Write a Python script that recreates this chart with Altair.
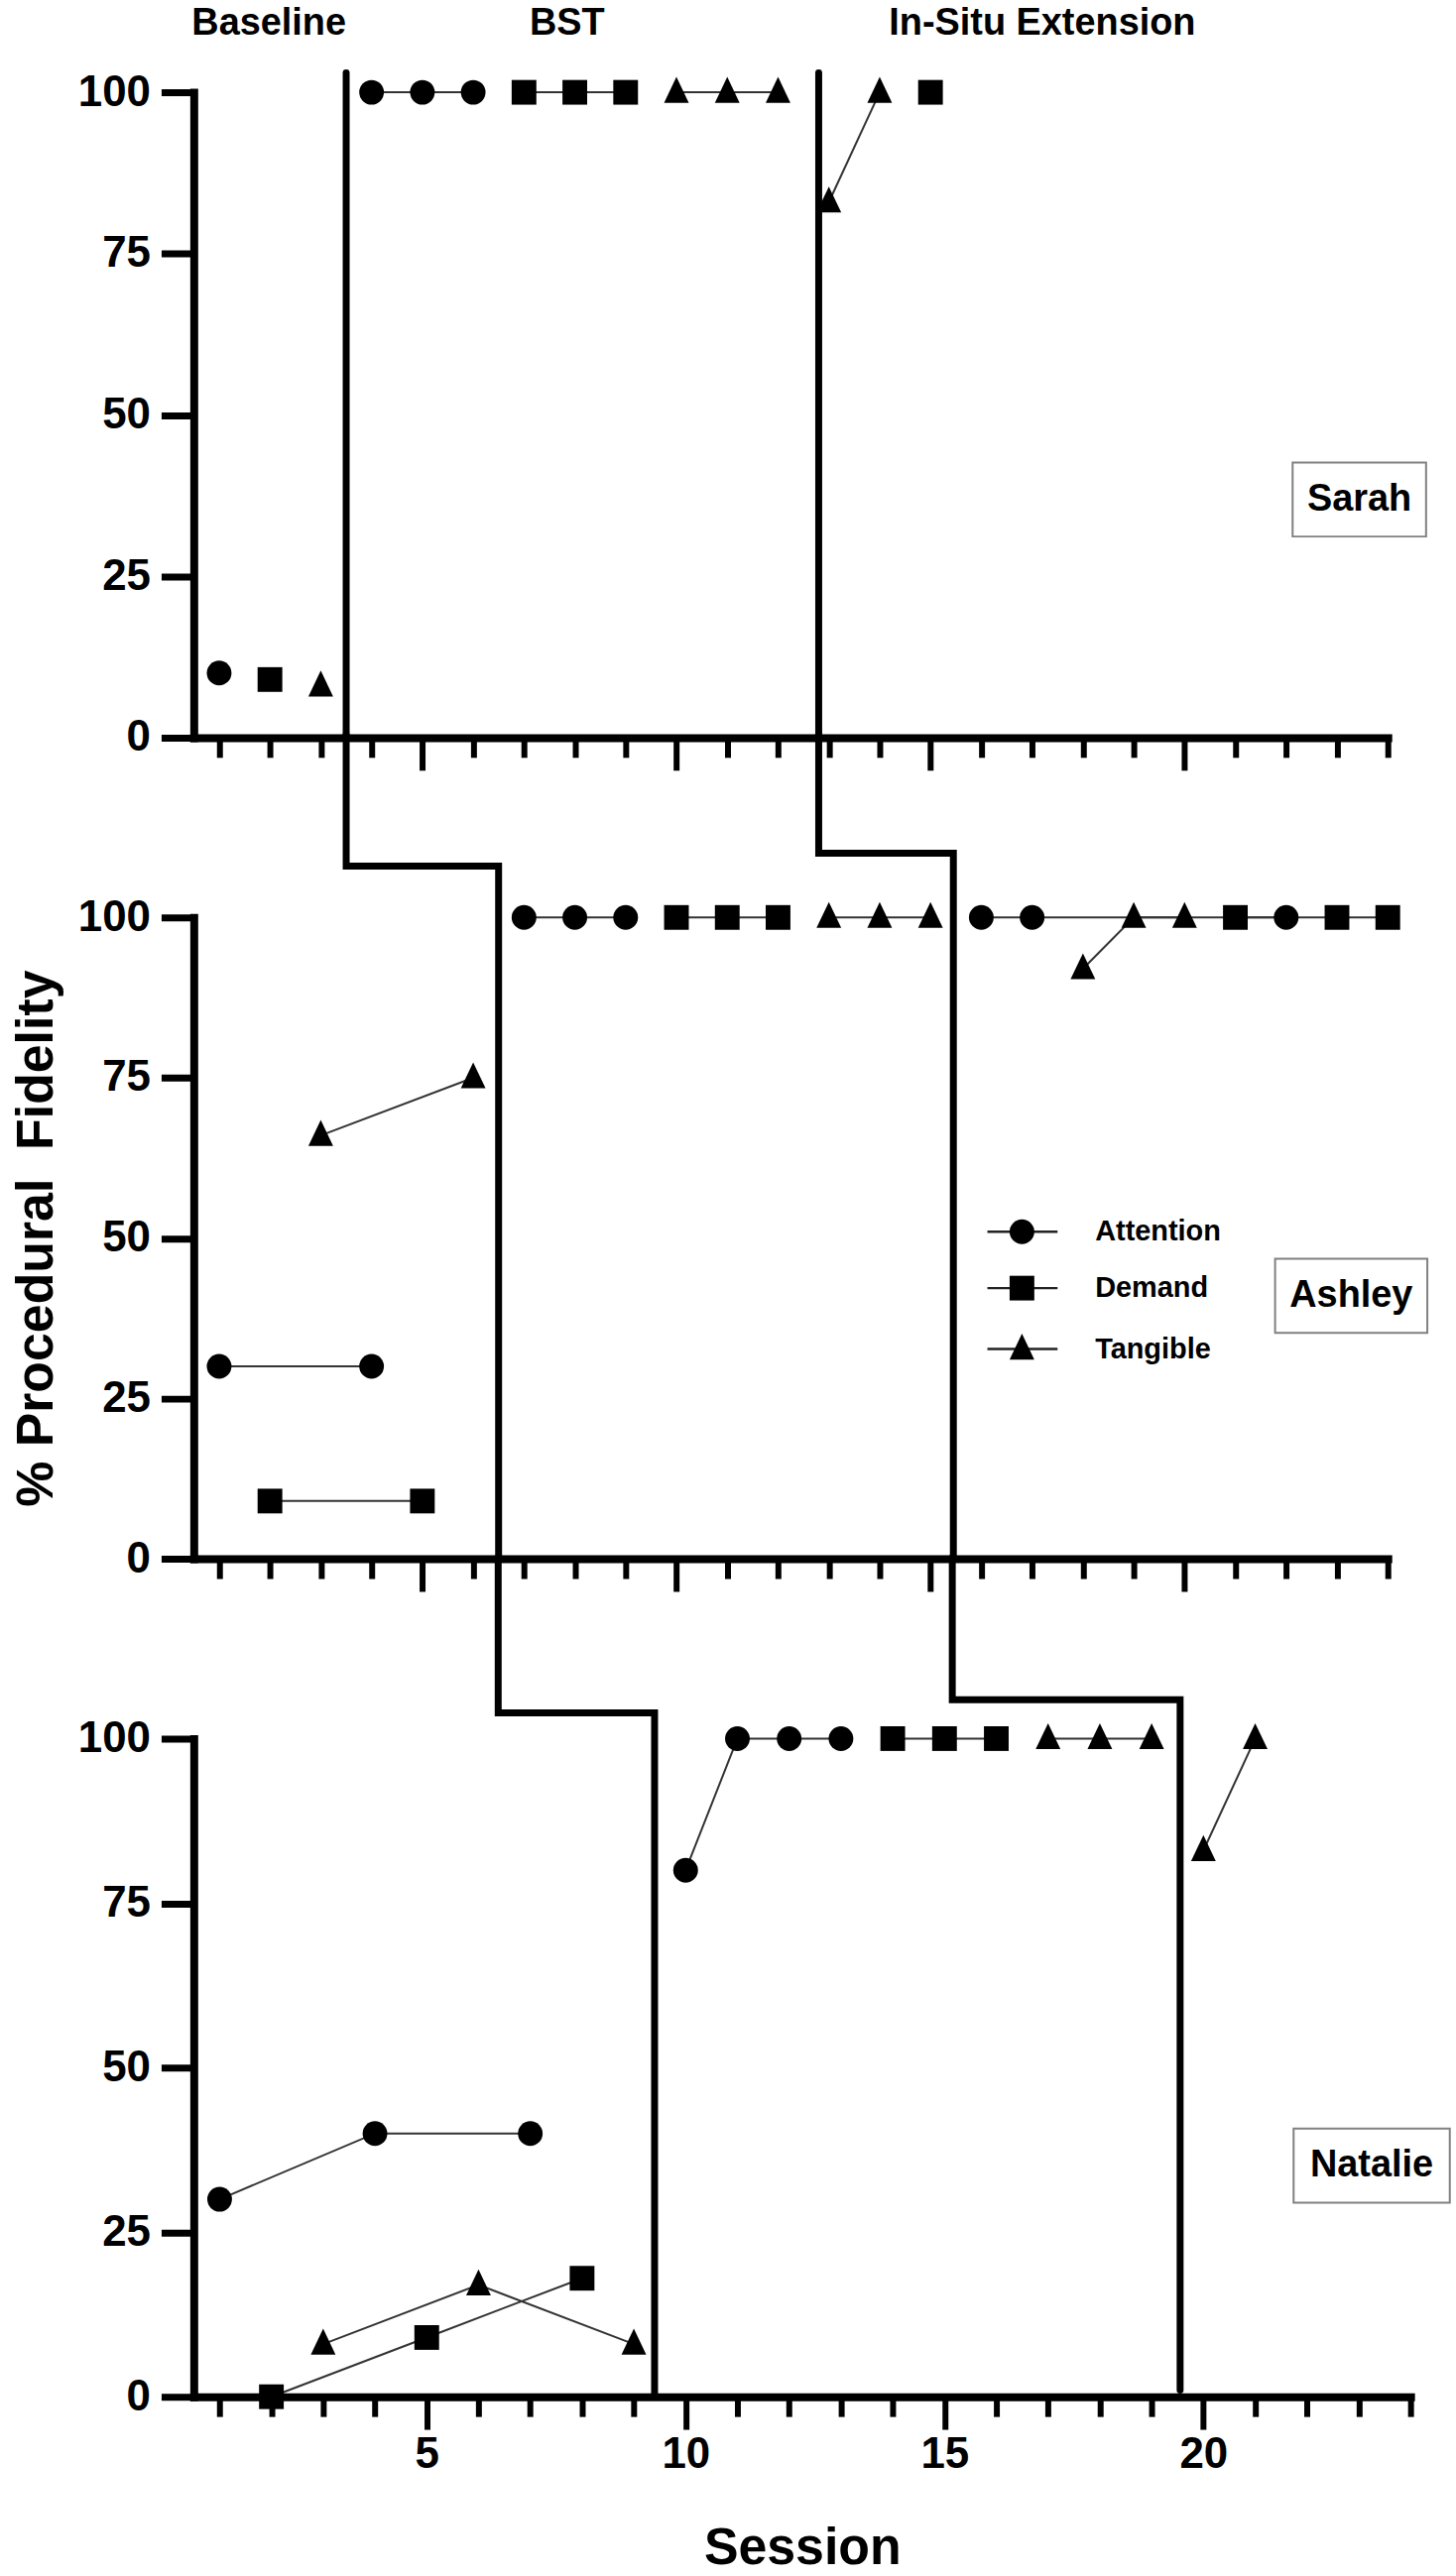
import altair as alt
import pandas as pd

FONT = "Liberation Sans"

# ---------------- data ----------------
conditions = ["Attention", "Demand", "Tangible"]
shape_range = ["circle", "square", "M0,-1.25L1,0.85L-1,0.85Z"]

# Sarah
sarah_session = [1, 2, 3, 4, 5, 6, 7, 8, 9, 10, 11, 12, 13, 14, 15]
sarah_condition = ["Attention", "Demand", "Tangible",
                   "Attention", "Attention", "Attention",
                   "Demand", "Demand", "Demand",
                   "Tangible", "Tangible", "Tangible",
                   "Tangible", "Tangible", "Demand"]
sarah_phase = ["Baseline"] * 3 + ["BST"] * 9 + ["In-Situ"] * 3
sarah_value = [10, 9, 8, 100, 100, 100, 100, 100, 100, 100, 100, 100, 83, 100, 100]

# Ashley
ashley_session = [1, 4, 2, 5, 3, 6,
                  7, 8, 9, 10, 11, 12, 13, 14, 15,
                  16, 17, 22, 18, 19, 20, 21, 23, 24]
ashley_condition = (["Attention"] * 2 + ["Demand"] * 2 + ["Tangible"] * 2 +
                    ["Attention"] * 3 + ["Demand"] * 3 + ["Tangible"] * 3 +
                    ["Attention"] * 3 + ["Tangible"] * 3 + ["Demand"] * 3)
ashley_phase = ["Baseline"] * 6 + ["BST"] * 9 + ["In-Situ"] * 9
ashley_value = [30, 30, 9, 9, 66, 75,
                100, 100, 100, 100, 100, 100, 100, 100, 100,
                100, 100, 100, 92, 100, 100, 100, 100, 100]

# Natalie
natalie_session = [1, 4, 7, 2, 5, 8, 3, 6, 9,
                   10, 11, 12, 13, 14, 15, 16, 17, 18, 19,
                   20, 21]
natalie_condition = (["Attention"] * 3 + ["Demand"] * 3 + ["Tangible"] * 3 +
                     ["Attention"] * 4 + ["Demand"] * 3 + ["Tangible"] * 3 +
                     ["Tangible"] * 2)
natalie_phase = ["Baseline"] * 9 + ["BST"] * 10 + ["In-Situ"] * 2
natalie_value = [30, 40, 40, 0, 9, 18, 8, 17, 8,
                 80, 100, 100, 100, 100, 100, 100, 100, 100, 100,
                 83, 100]

# phase-change lines (session, % in each panel's own units)
sarah_pc_line = ["A", "A", "B", "B"]
sarah_pc_session = [3.5, 3.5, 12.8, 12.8]
sarah_pc_pct = [103, 0, 103, 0]

ashley_pc_line = ["A", "A", "A", "A", "B", "B", "B", "B"]
ashley_pc_session = [3.5, 3.5, 6.5, 6.5, 12.8, 12.8, 15.45, 15.45]
ashley_pc_pct = [128.5, 108, 108, 0, 128.5, 110, 110, 0]

natalie_pc_line = ["A", "A", "A", "A", "B", "B", "B", "B"]
natalie_pc_session = [6.38, 6.38, 9.4, 9.4, 15.15, 15.15, 19.55, 19.55]
natalie_pc_pct = [127.5, 103.9, 103.9, 0, 127.5, 105.9, 105.9, 1]

# phase labels (top of first panel)
phase_labels = ["Baseline", "BST", "In-Situ Extension"]
phase_label_session = [1.98, 7.85, 17.2]
phase_label_pct = [108.9, 108.9, 108.9]

# participant name boxes
names = ["Sarah", "Ashley", "Natalie"]
name_session = [23.44, 23.28, 23.25]
name_pct = [36.9, 41.0, 35.1]
name_box_w = [135, 154, 158]

# legend (inside Ashley's panel)
legend_pct = [51, 42.2, 32.7]
legend_rule = [16.12, 17.5]
legend_symbol_session = 16.8
legend_text_session = 18.24

x_ticks = list(range(1, 25))
y_ticks = [0, 25, 50, 75, 100]


def data_frame(session, condition, phase, value):
    df = pd.DataFrame({"session": session, "condition": condition,
                       "phase": phase, "pct": value})
    df["series"] = df["phase"] + "-" + df["condition"]
    return df


def pc_frame(line, session, pct):
    return pd.DataFrame({"line": line, "session": session, "pct": pct,
                         "idx": list(range(len(line)))})


def make_panel(df, pc, width, height, idx, bottom=False, y_title=None,
               legend=False, labels=False):
    x_scale = alt.Scale(domain=[0.5, 24], nice=False, zero=False)
    y_scale = alt.Scale(domain=[0, 100], nice=False, zero=False)
    tick_size = {"condition": {"test": "datum.value % 5 === 0", "value": 33}, "value": 20}
    x_axis_kw = dict(values=x_ticks, grid=False, domainColor="black", domainWidth=8,
                     domainCap="square", tickColor="black", tickWidth=6,
                     tickSize=tick_size, labelFlush=False, labelOverlap=False)
    if bottom:
        x_axis = alt.Axis(labelExpr="datum.value % 5 === 0 ? datum.label : ''",
                          labelFont=FONT, labelFontSize=44, labelFontWeight="bold",
                          labelColor="black", labelPadding=4,
                          title="Session", titleFont=FONT, titleFontSize=52,
                          titleFontWeight="bold", titleColor="black", titlePadding=47,
                          **x_axis_kw)
    else:
        x_axis = alt.Axis(labels=False, title=None, **x_axis_kw)
    y_kw = dict(values=y_ticks, grid=False, domainColor="black", domainWidth=8,
                domainCap="square", tickColor="black", tickWidth=7, tickSize=33,
                labelFont=FONT, labelFontSize=44, labelFontWeight="bold",
                labelColor="black", labelPadding=11)
    if y_title:
        y_axis = alt.Axis(title=y_title, titleFont=FONT, titleFontSize=52,
                          titleFontWeight="bold", titleColor="black",
                          titlePadding=15, **y_kw)
    else:
        y_axis = alt.Axis(title=None, **y_kw)

    X = alt.X("session:Q", scale=x_scale, axis=x_axis)
    Y = alt.Y("pct:Q", scale=y_scale, axis=y_axis)
    shape = alt.Shape("condition:N", scale=alt.Scale(domain=conditions, range=shape_range),
                      legend=None)

    layers = []
    layers.append(alt.Chart(pc).mark_line(color="black", strokeWidth=7, strokeCap="round",
                                          strokeJoin="miter")
                  .encode(x=X, y=Y, detail="line:N", order=alt.Order("idx:Q")))
    layers.append(alt.Chart(df).mark_line(color="#333333", strokeWidth=2)
                  .encode(x=X, y=Y, detail="series:N", order=alt.Order("session:Q")))
    layers.append(alt.Chart(df).mark_point(filled=True, size=625, opacity=1, color="black")
                  .encode(x=X, y=Y, shape=shape))

    if legend:
        leg = pd.DataFrame({"condition": conditions, "pct": legend_pct,
                            "session": [legend_rule[0]] * 3,
                            "session2": [legend_rule[1]] * 3,
                            "sym": [legend_symbol_session] * 3,
                            "txt": [legend_text_session] * 3})
        layers.append(alt.Chart(leg).mark_rule(color="#222222", strokeWidth=2.5)
                      .encode(x=X, x2="session2:Q", y=Y))
        layers.append(alt.Chart(leg).mark_point(filled=True, size=625, opacity=1, color="black")
                      .encode(x=alt.X("sym:Q", scale=x_scale, axis=x_axis), y=Y, shape=shape))
        layers.append(alt.Chart(leg).mark_text(font=FONT, fontSize=29, fontWeight="bold",
                                               align="left", baseline="middle", color="black")
                      .encode(x=alt.X("txt:Q", scale=x_scale, axis=x_axis), y=Y,
                              text="condition:N"))

    box = pd.DataFrame({"name": [names[idx]], "session": [name_session[idx]],
                        "pct": [name_pct[idx]]})
    layers.append(alt.Chart(box).mark_rect(width=name_box_w[idx], height=75, fill="white",
                                           stroke="#808080", strokeWidth=2)
                  .encode(x=X, y=Y))
    layers.append(alt.Chart(box).mark_text(font=FONT, fontSize=38, fontWeight="bold",
                                           align="center", baseline="middle", color="black")
                  .encode(x=X, y=Y, text="name:N"))

    if labels:
        lab = pd.DataFrame({"label": phase_labels, "session": phase_label_session,
                            "pct": phase_label_pct})
        layers.append(alt.Chart(lab).mark_text(font=FONT, fontSize=38, fontWeight="bold",
                                               align="center", baseline="alphabetic",
                                               color="black")
                      .encode(x=X, y=Y, text="label:N"))

    return alt.layer(*layers).properties(width=width, height=height)


sarah_df = data_frame(sarah_session, sarah_condition, sarah_phase, sarah_value)
ashley_df = data_frame(ashley_session, ashley_condition, ashley_phase, ashley_value)
natalie_df = data_frame(natalie_session, natalie_condition, natalie_phase, natalie_value)

p1 = make_panel(sarah_df, pc_frame(sarah_pc_line, sarah_pc_session, sarah_pc_pct),
                1208, 653, 0, labels=True)
p2 = make_panel(ashley_df, pc_frame(ashley_pc_line, ashley_pc_session, ashley_pc_pct),
                1208, 649, 1, y_title="% Procedural\u00a0 Fidelity", legend=True)
p3 = make_panel(natalie_df, pc_frame(natalie_pc_line, natalie_pc_session, natalie_pc_pct),
                1231, 666, 2, bottom=True)

chart = (alt.vconcat(p1, p2, p3, spacing=182, bounds="flush")
         .properties(padding={"left": 10, "top": 0, "right": 5, "bottom": 0},
                     background="white")
         .configure(font=FONT)
         .configure_view(stroke=None))

chart.save("out.html", embed_options={"renderer": "svg", "actions": False})
